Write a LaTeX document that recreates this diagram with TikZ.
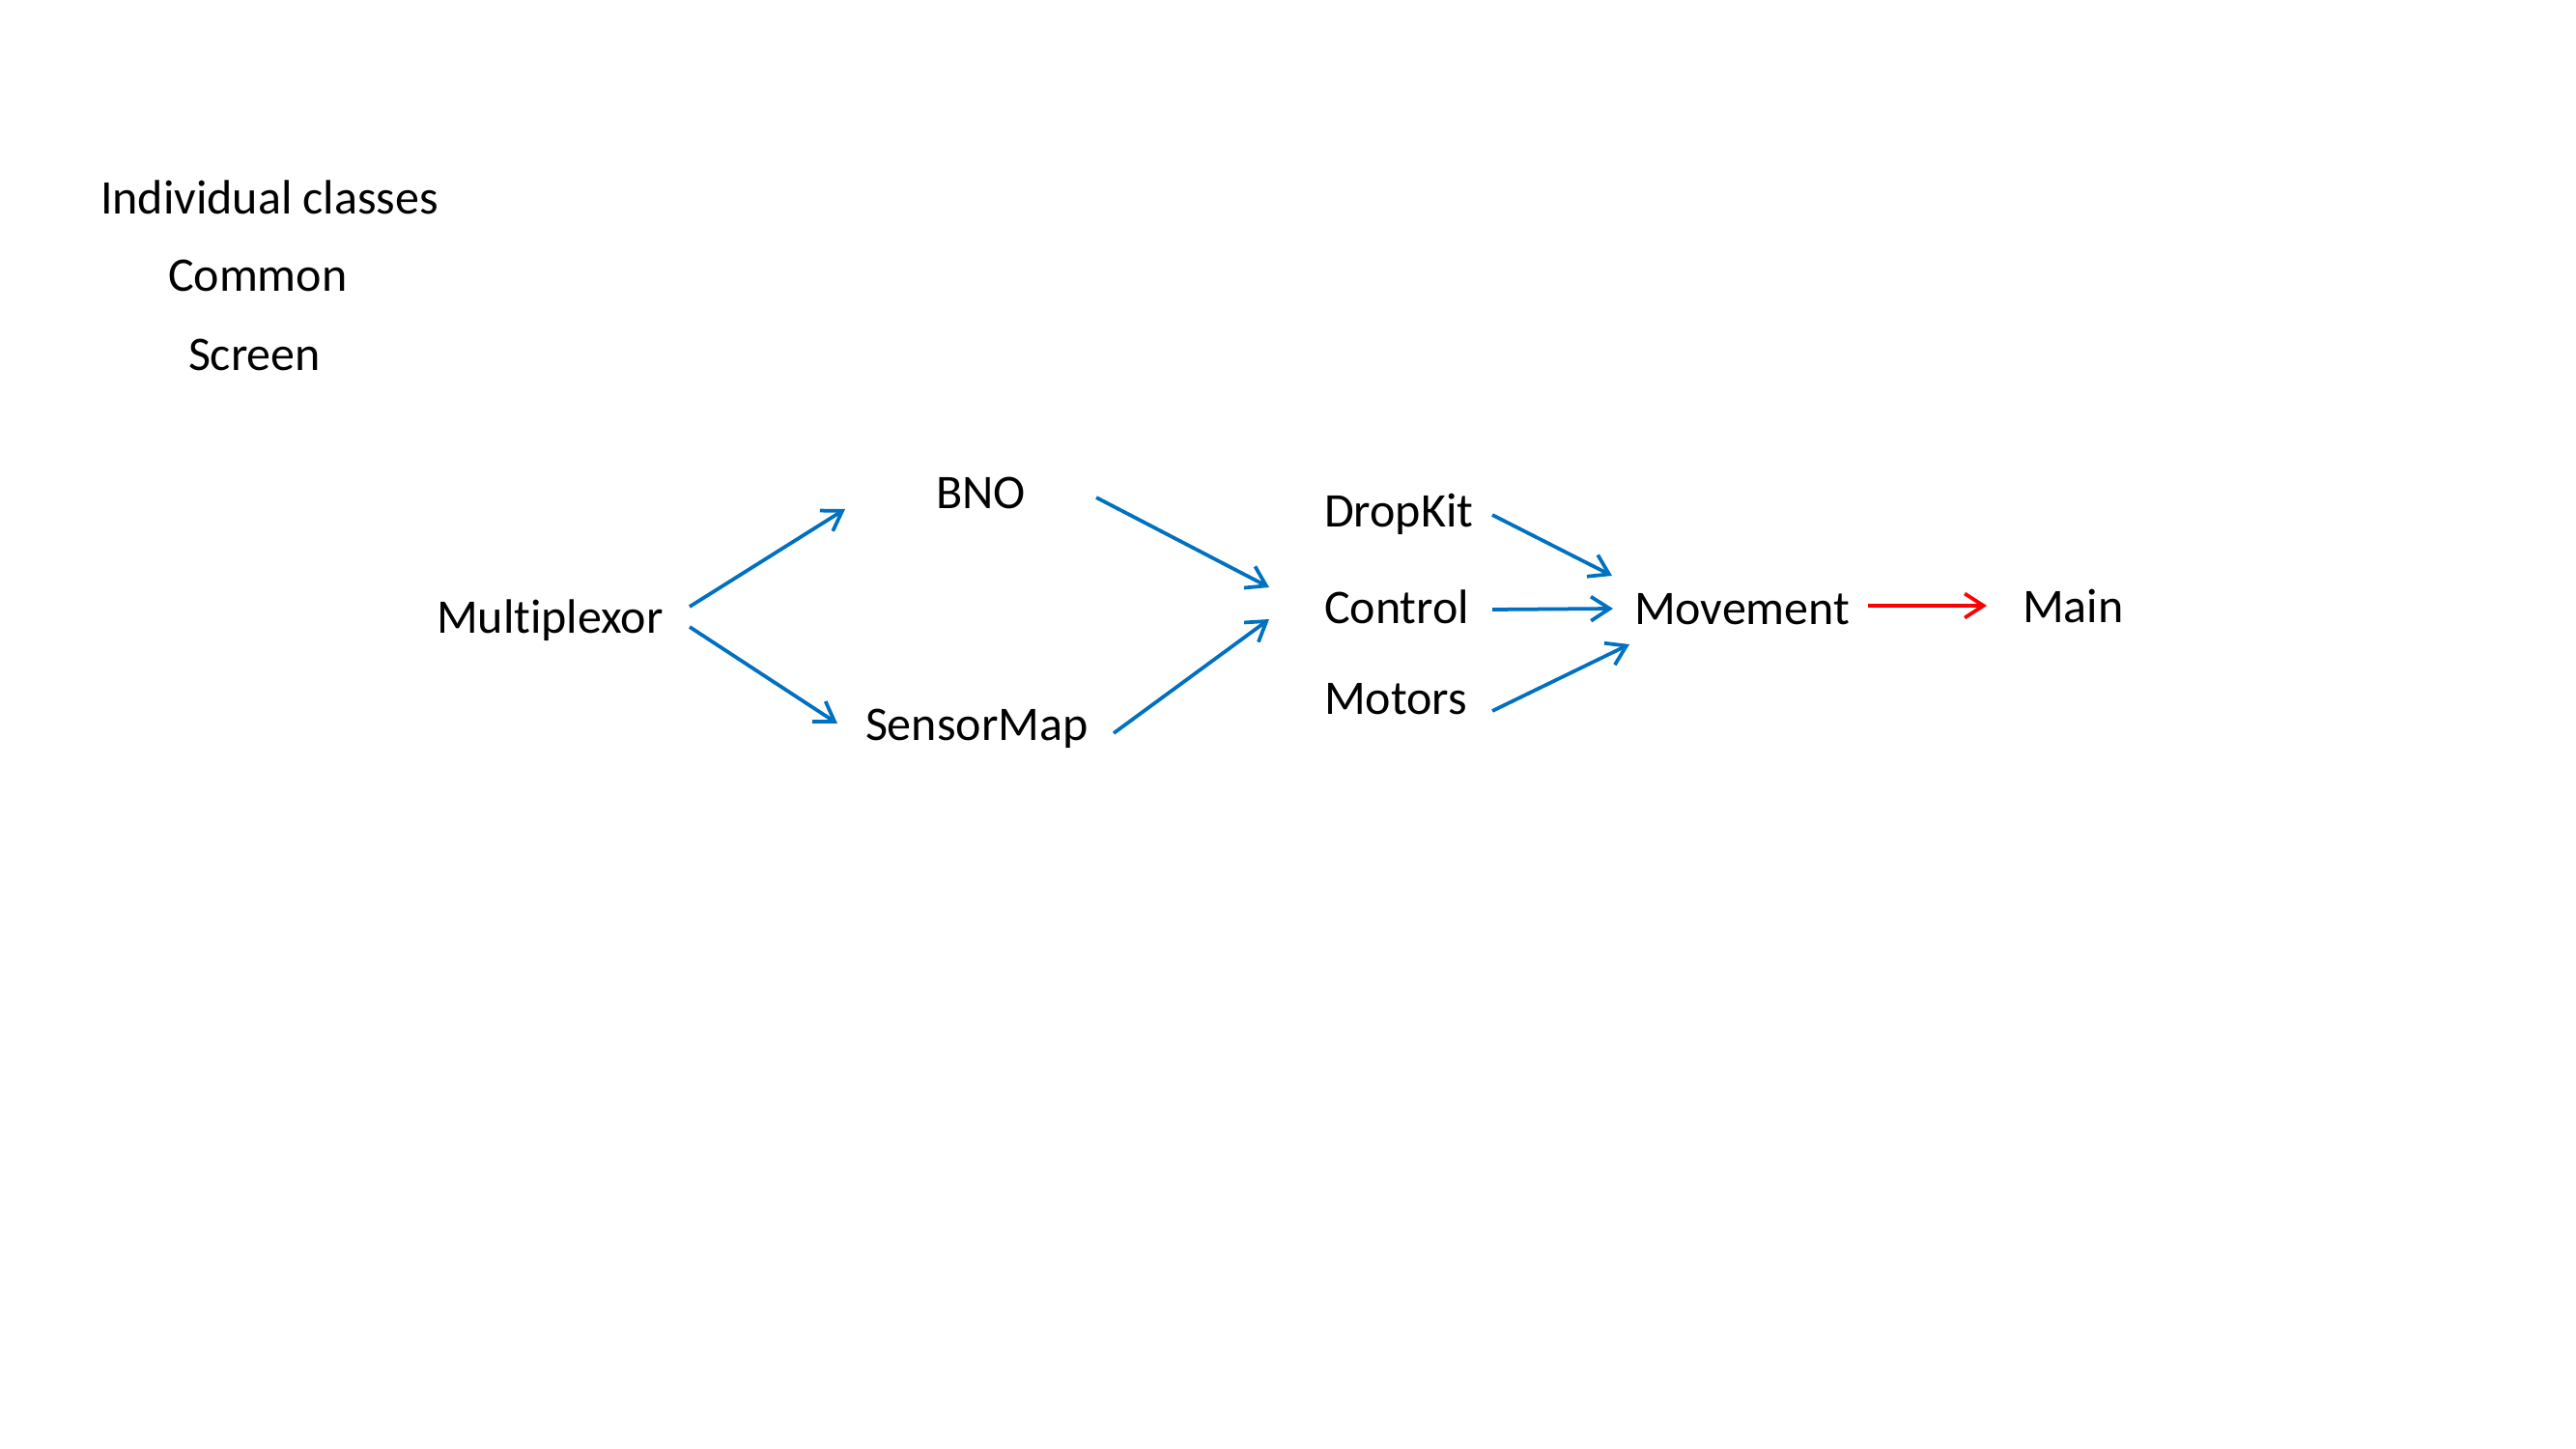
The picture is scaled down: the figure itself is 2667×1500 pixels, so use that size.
\documentclass[tikz,border=0pt]{standalone}
\usepackage{fontspec}
\setmainfont{Carlito}[Ligatures={NoCommon}]
\usetikzlibrary{arrows.meta,calc}
\definecolor{arrblue}{HTML}{0070C0}
\definecolor{arrred}{HTML}{FF0000}
\begin{document}
\begin{tikzpicture}[x=0.36pt,y=-0.36pt,
  lbl/.style={inner sep=0pt,outer sep=0pt,anchor=base west,font=\fontsize{18}{21.6}\selectfont},
  arr/.style={draw=arrblue,line width=1.35pt,-{Straight Barb[length=7pt,width=9pt]}},
  arrr/.style={arr,draw=arrred}]
\useasboundingbox (0,0) rectangle (2667,1500);
\node[lbl] (ind) at (104,222) {Individual classes};
\node[lbl] (com) at (174,302) {Common};
\node[lbl] (scr) at (195,384) {Screen};
\node[lbl] (mux) at (452,655) {Multiplexor};
\node[lbl] (bno) at (969,526) {BNO};
\node[lbl] (smap) at (896,766) {SensorMap};
\node[lbl] (drop) at (1371,545) {DropKit};
\node[lbl] (ctrl) at (1371,645) {Control};
\node[lbl] (mot) at (1371,739) {Motors};
\node[lbl] (mov) at (1692,646) {Movement};
\node[lbl] (main) at (2094,644) {Main};
\draw[arr] ($(mux.base west)+(262,-27)$) -- ($(bno.base west)+(-94,1)$);
\draw[arr] ($(mux.base west)+(262,-6)$) -- ($(smap.base west)+(-29,-17)$);
\draw[arr] ($(bno.base west)+(166,-11)$) -- ($(ctrl.base west)+(-57,-37)$);
\draw[arr] ($(smap.base west)+(257,-7)$) -- ($(ctrl.base west)+(-57,-4)$);
\draw[arr] ($(drop.base west)+(174,-12)$) -- ($(mov.base west)+(-23,-50)$);
\draw[arr] ($(ctrl.base west)+(174,-14)$) -- ($(mov.base west)+(-22,-16)$);
\draw[arr] ($(mot.base west)+(174,-3)$) -- ($(mov.base west)+(-5,21)$);
\draw[arrr] ($(mov.base west)+(242,-19)$) -- ($(main.base west)+(-37,-17)$);
\end{tikzpicture}
\end{document}
